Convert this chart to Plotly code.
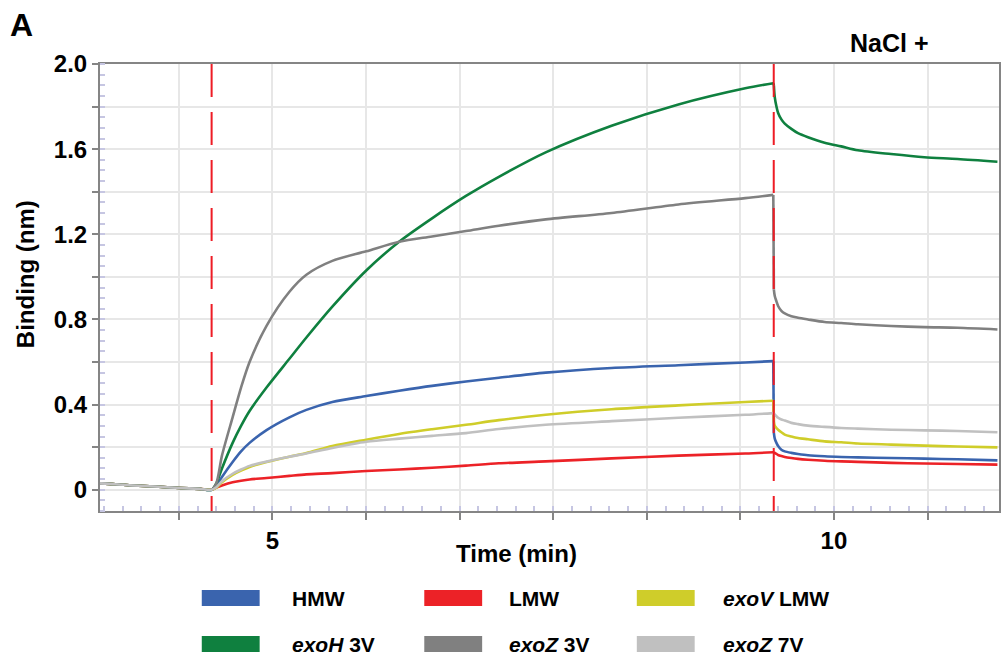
import plotly.graph_objects as go

# ---- time axes (min) ----
t_baseline = [3.464, 3.600, 3.757, 3.950, 4.174, 4.350, 4.458]
t_assoc = [4.500, 4.550, 4.645, 4.720, 4.796, 4.947, 5.151, 5.302, 5.533, 5.835,
           6.128, 6.421, 6.723, 7.016, 7.433, 8.020, 8.615, 9.210, 9.460]
t_dissoc = [9.465, 9.473, 9.488, 9.503, 9.532, 9.562, 9.621, 9.680, 9.769, 9.917,
            10.065, 10.213, 10.509, 10.805, 11.101, 11.456]

# ---- binding (nm) ----
baseline = [0.030, 0.026, 0.020, 0.015, 0.008, 0.004, 0.000]

hmw_assoc = [0.020, 0.060, 0.130, 0.180, 0.220, 0.280, 0.340, 0.375, 0.412, 0.440,
             0.465, 0.488, 0.508, 0.526, 0.550, 0.572, 0.585, 0.598, 0.604]
hmw_dissoc = [0.267, 0.240, 0.220, 0.205, 0.188, 0.180, 0.173, 0.168, 0.162, 0.157,
              0.154, 0.152, 0.149, 0.146, 0.143, 0.138]

lmw_assoc = [0.010, 0.020, 0.035, 0.042, 0.048, 0.055, 0.065, 0.072, 0.078, 0.088,
             0.095, 0.103, 0.113, 0.124, 0.133, 0.147, 0.160, 0.170, 0.176]
lmw_dissoc = [0.176, 0.173, 0.168, 0.163, 0.158, 0.154, 0.149, 0.145, 0.141, 0.136,
              0.133, 0.131, 0.126, 0.123, 0.121, 0.118]

exov_assoc = [0.010, 0.035, 0.070, 0.090, 0.107, 0.130, 0.155, 0.172, 0.205, 0.235,
              0.262, 0.284, 0.305, 0.327, 0.352, 0.378, 0.396, 0.412, 0.418]
exov_dissoc = [0.320, 0.300, 0.290, 0.282, 0.270, 0.259, 0.250, 0.243, 0.237, 0.227,
               0.223, 0.217, 0.212, 0.207, 0.203, 0.199]

exoh_assoc = [0.030, 0.100, 0.220, 0.300, 0.370, 0.480, 0.615, 0.715, 0.860, 1.030,
              1.165, 1.275, 1.380, 1.470, 1.585, 1.710, 1.810, 1.886, 1.910]
exoh_dissoc = [1.900, 1.844, 1.800, 1.770, 1.740, 1.720, 1.695, 1.675, 1.656, 1.630,
               1.613, 1.595, 1.577, 1.562, 1.554, 1.541]

exoz3_assoc = [0.030, 0.160, 0.340, 0.480, 0.600, 0.770, 0.930, 1.010, 1.075, 1.120,
               1.165, 1.190, 1.215, 1.240, 1.270, 1.300, 1.340, 1.370, 1.385]
exoz3_dissoc = [0.940, 0.910, 0.885, 0.863, 0.840, 0.828, 0.815, 0.808, 0.800, 0.788,
                0.783, 0.777, 0.769, 0.764, 0.761, 0.753]

exoz7_assoc = [0.012, 0.040, 0.075, 0.095, 0.112, 0.132, 0.155, 0.170, 0.196, 0.225,
               0.240, 0.253, 0.266, 0.285, 0.305, 0.322, 0.338, 0.352, 0.360]
exoz7_dissoc = [0.360, 0.353, 0.345, 0.338, 0.330, 0.325, 0.314, 0.308, 0.301, 0.295,
                0.290, 0.287, 0.282, 0.279, 0.276, 0.270]

series_names = ["HMW", "LMW", "<i>exoV</i> LMW", "<i>exoH</i> 3V", "<i>exoZ</i> 3V", "<i>exoZ</i> 7V"]
series_colors = ["#3a64ae", "#ec2227", "#cfcd2a", "#0f803f", "#808080", "#c0c0c0"]
series_assoc = [hmw_assoc, lmw_assoc, exov_assoc, exoh_assoc, exoz3_assoc, exoz7_assoc]
series_dissoc = [hmw_dissoc, lmw_dissoc, exov_dissoc, exoh_dissoc, exoz3_dissoc, exoz7_dissoc]

# event markers (min): sample loading, NaCl addition
event_times = [4.458, 9.464]

# axis ticks
x_tick_vals = [5 + k * 5 / 6 for k in range(-1, 8)]
x_tick_text = ["", "5", "", "", "", "", "", "10", ""]
y_tick_vals = [round(0.2 * k, 1) for k in range(0, 11)]
y_tick_text = ["0", "", "0.4", "", "0.8", "", "1.2", "", "1.6", "", "2.0"]

FONT = "Liberation Sans, Arial, sans-serif"
W, H = 1003, 655
ML, MR, MT, MB = 100, 2, 64, 144
PW, PH = W - ML - MR, H - MT - MB


def px(x):
    return (x - ML) / PW


def py(y):
    return (H - MB - y) / PH


fig = go.Figure()
LW = 2.6
for name, color, a, d in zip(series_names, series_colors, series_assoc, series_dissoc):
    # baseline + association phase
    fig.add_trace(go.Scatter(
        x=t_baseline + t_assoc, y=baseline + a, mode="lines", name=name,
        line=dict(color=color, width=LW, shape="spline", smoothing=0.8),
        showlegend=False,
    ))
    # step at salt addition
    fig.add_trace(go.Scatter(
        x=[t_assoc[-1], t_dissoc[0]], y=[a[-1], d[0]], mode="lines", name=name,
        line=dict(color=color, width=LW), showlegend=False,
    ))
    # dissociation phase
    fig.add_trace(go.Scatter(
        x=t_dissoc, y=d, mode="lines", name=name,
        line=dict(color=color, width=LW, shape="spline", smoothing=0.8),
        showlegend=False,
    ))

for t in event_times:
    fig.add_shape(type="line", xref="x", yref="paper", x0=t, x1=t, y0=1, y1=0,
                  line=dict(color="#ee1c25", width=2, dash="33px,15px"), layer="above")

grid_col = "#e7e7e7"
minor_col = "#c6c6e2"
axis_col = "#858585"

fig.update_xaxes(
    range=[3.464, 11.47], tickmode="array", tickvals=x_tick_vals, ticktext=x_tick_text,
    showgrid=True, gridcolor=grid_col, gridwidth=2,
    showline=True, linecolor=axis_col, linewidth=2, mirror=True,
    ticks="outside", ticklen=7, tickwidth=2, tickcolor=axis_col,
    tickfont=dict(family=FONT, size=24, color="#000", weight="bold"),
    minor=dict(tickmode="linear", tick0=5, dtick=1 / 6, ticks="inside", ticklen=5,
               tickwidth=2, tickcolor=minor_col, showgrid=False),
    zeroline=False,
)
fig.update_yaxes(
    range=[-0.1, 2.0], tickmode="array", tickvals=y_tick_vals, ticktext=y_tick_text,
    showgrid=True, gridcolor=grid_col, gridwidth=2,
    showline=True, linecolor=axis_col, linewidth=2, mirror=True,
    ticks="outside", ticklen=6, tickwidth=2, tickcolor=axis_col,
    tickfont=dict(family=FONT, size=24, color="#000", weight="bold"),
    minor=dict(tickmode="linear", tick0=0, dtick=0.05, ticks="inside", ticklen=5,
               tickwidth=2, tickcolor=minor_col, showgrid=False),
    zeroline=False,
)

annotations = [
    dict(text="<b>Time (min)</b>", x=px(517), y=py(553), font=dict(size=24)),
    dict(text="<b>Binding (nm)</b>", x=px(25), y=py(274), textangle=-90, font=dict(size=24)),
    dict(text="<b>A</b>", x=px(21), y=py(25), font=dict(size=32)),
    dict(text="<b>NaCl +</b>", x=px(891), y=py(43), font=dict(size=25)),
]

# legend: two rows of three swatch + label pairs
leg_swatch_x = [202, 425, 638]
leg_text_x = [290, 508, 722]
leg_row_y = [598, 644]
for i, (name, color) in enumerate(zip(series_names, series_colors)):
    r, c = divmod(i, 3)
    yc = leg_row_y[r]
    fig.add_shape(type="rect", xref="paper", yref="paper",
                  x0=px(leg_swatch_x[c]), x1=px(leg_swatch_x[c] + 58),
                  y0=py(yc - 8), y1=py(yc + 8),
                  fillcolor=color, line=dict(width=0))
    annotations.append(dict(text="<b>" + name + "</b>", x=px(leg_text_x[c]), y=py(yc),
                            xanchor="left", font=dict(size=21)))

for a in annotations:
    a.setdefault("xanchor", "center")
    a.update(xref="paper", yref="paper", yanchor="middle", showarrow=False)
    a["font"] = dict(family=FONT, color="#000", **a["font"])
    fig.add_annotation(**a)

fig.update_layout(
    width=W, height=H, margin=dict(l=ML, r=MR, t=MT, b=MB),
    paper_bgcolor="white", plot_bgcolor="white", showlegend=False,
)

fig.write_html("out.html")
